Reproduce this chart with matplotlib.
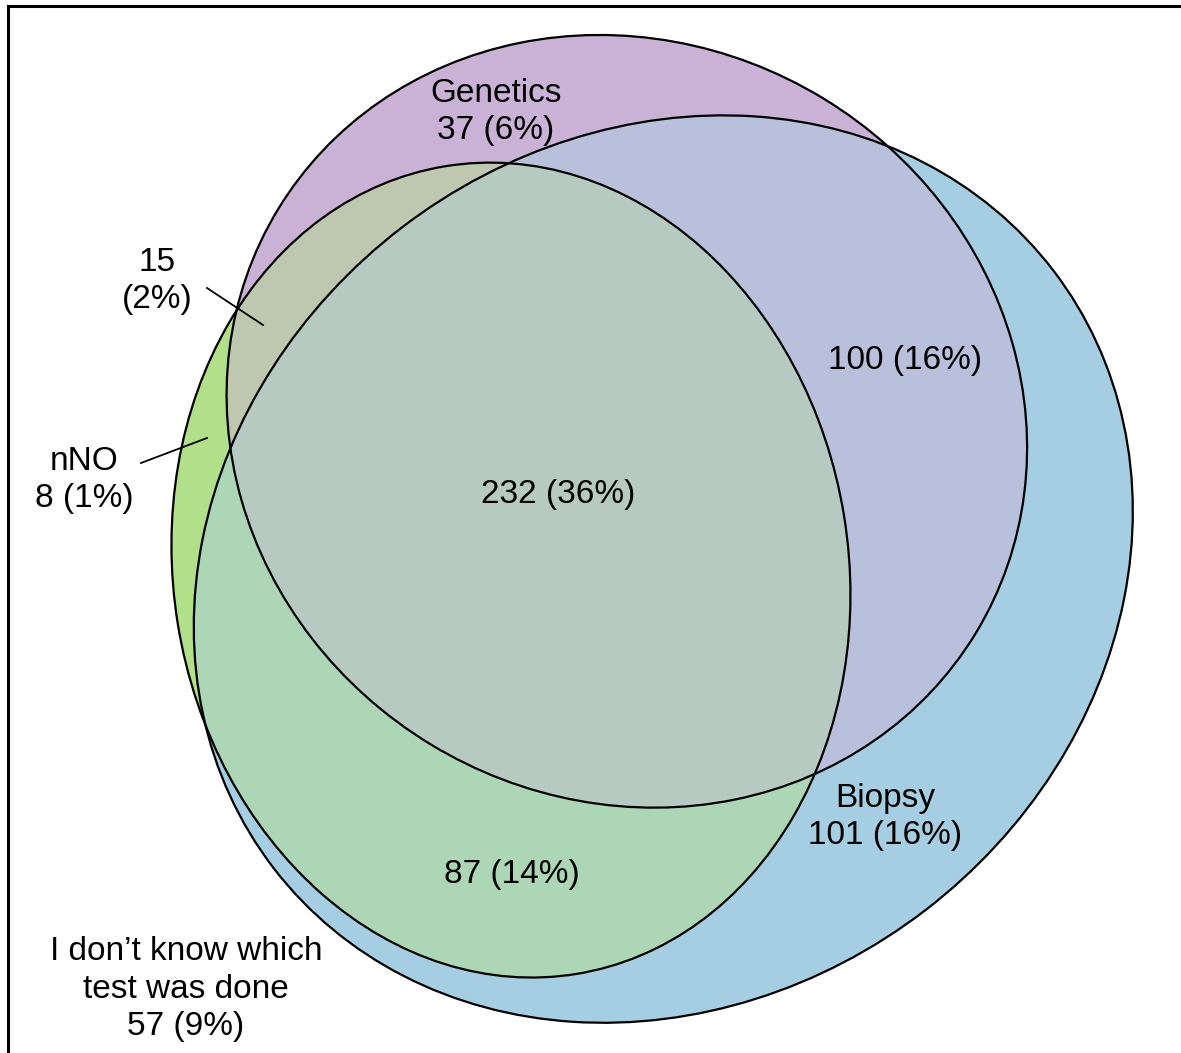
import numpy as np
import matplotlib
matplotlib.use("Agg")
import matplotlib.pyplot as plt
from matplotlib.patches import Ellipse
from matplotlib.colors import to_rgb

plt.rcParams['font.family'] = ['Liberation Sans', 'DejaVu Sans']

# sets (Genetics, Biopsy, nNO)
set_names = ['Genetics', 'Biopsy', 'nNO']
set_colors = ['#CAB2D6', '#A6CEE3', '#B2DF8A']

# region counts and percentages
region_keys = ['G', 'B', 'N', 'GN', 'GB', 'BN', 'GBN', 'none']
region_counts = [37, 101, 8, 15, 100, 87, 232, 57]
region_pcts = [6, 16, 1, 2, 16, 14, 36, 9]

# outline points (pixels, y downwards)
genetics_x = [238, 290, 383, 600, 807, 887, 967, 1013, 1027, 1020, 993, 947, 820, 650, 483, 383, 283, 230, 227]
genetics_y = [307, 200, 100, 37, 90, 143, 267, 367, 450, 517, 600, 683, 772, 808, 767, 700, 600, 457, 393]
biopsy_x = [573, 640, 720, 807, 887, 980, 1047, 1097, 1120, 1125, 1117, 1093, 1063, 1013, 947, 863, 780, 650,
            580, 417, 300, 243, 197, 193, 200, 230, 277, 350, 440, 512]
biopsy_y = [140, 123, 116, 123, 143, 200, 260, 350, 433, 500, 600, 700, 767, 833, 900, 953, 983, 1018,
            1022, 983, 900, 800, 693, 627, 560, 457, 333, 240, 203, 166]
nno_x = [483, 640, 780, 823, 852, 847, 817, 780, 650, 537, 383, 283, 230, 197, 185, 173, 183, 203, 238]
nno_y = [166, 207, 340, 433, 600, 667, 773, 833, 947, 972, 943, 867, 800, 693, 660, 560, 433, 367, 307]
# points where two outlines cross count more in the fit
crossings = [(238, 307), (887, 143), (512, 166), (197, 693), (230, 457), (820, 772)]

W, H = 1181, 1053


def fit_ellipse(px, py):
    x = np.asarray(px, float)
    y = np.asarray(py, float)
    w = np.array([3.0 if (a, b) in crossings else 1.0 for a, b in zip(px, py)])
    mx, my = x.mean(), y.mean()
    s = max(x.std(), y.std())
    u, v = (x - mx) / s, (y - my) / s
    M = np.column_stack([u * u, u * v, v * v, u, v])
    A, B, C, D, E = np.linalg.lstsq(M * w[:, None], w, rcond=None)[0]
    u0, v0 = np.linalg.solve([[2 * A, B], [B, 2 * C]], [-D, -E])
    f0 = A * u0 * u0 + B * u0 * v0 + C * v0 * v0 + D * u0 + E * v0 - 1
    lam, vec = np.linalg.eigh([[A, B / 2], [B / 2, C]])
    semi = np.sqrt(-f0 / lam) * s
    ang = np.degrees(np.arctan2(vec[1, 0], vec[0, 0]))
    return (mx + u0 * s, my + v0 * s), 2 * semi[0], 2 * semi[1], ang


ells = [fit_ellipse(genetics_x, genetics_y),
        fit_ellipse(biopsy_x, biopsy_y),
        fit_ellipse(nno_x, nno_y)]


def inside(xx, yy, e):
    (cx, cy), w, h, a = e
    t = np.deg2rad(a)
    dx, dy = xx - cx, yy - cy
    u = dx * np.cos(t) + dy * np.sin(t)
    v = -dx * np.sin(t) + dy * np.cos(t)
    return (u / (w / 2)) ** 2 + (v / (h / 2)) ** 2 <= 1


fig = plt.figure(figsize=(W / 100, H / 100), dpi=100)
ax = fig.add_axes([0, 0, 1, 1])
ax.set_xlim(0, W)
ax.set_ylim(H, 0)
ax.axis('off')

# region fills: each region gets the mean colour of the sets it belongs to
xx, yy = np.meshgrid(np.arange(W) + 0.5, np.arange(H) + 0.5)
acc = np.zeros((H, W, 3))
n = np.zeros((H, W))
for e, c in zip(ells, set_colors):
    m = inside(xx, yy, e)
    acc[m] += to_rgb(c)
    n[m] += 1
img = np.ones((H, W, 3))
hit = n > 0
img[hit] = acc[hit] / n[hit][:, None]
ax.imshow(img, extent=(0, W, H, 0), interpolation='nearest', zorder=1)

for (c, w, h, a) in ells:
    ax.add_patch(Ellipse(c, w, h, angle=a, fill=False, edgecolor='black', lw=1.6, zorder=3))


# labels
def lab(key):
    k = region_keys.index(key)
    return region_counts[k], region_pcts[k]


label_pos = {
    'G': (496, 112), 'B': (885, 817), 'N': (84, 480), 'GN': (157, 281),
    'GB': (905, 360), 'BN': (512, 875), 'GBN': (558, 495), 'none': (186, 989),
}
for key in region_keys:
    c, p = lab(key)
    if key in ('G', 'B', 'N'):
        s = f'{set_names["GBN".index(key)]}\n{c} ({p}%)'
    elif key == 'GN':
        s = f'{c}\n({p}%)'
    elif key == 'none':
        s = f'I don’t know which\ntest was done\n{c} ({p}%)'
    else:
        s = f'{c} ({p}%)'
    x, y = label_pos[key]
    ax.text(x, y, s, ha='center', va='center', fontsize=24, linespacing=1.28, zorder=4)

# leader lines for the small regions
ax.plot([207, 263], [288, 325], color='black', lw=1.3, zorder=4)
ax.plot([141, 207], [463, 438], color='black', lw=1.3, zorder=4)

# faint rule and frame
ax.plot([72, 1142], [32, 32], color='#f3f3f3', lw=2.5, zorder=0)
ax.plot([8, W + 5], [6, 6], color='black', lw=2.2, zorder=5, clip_on=False)
ax.plot([8, 8], [6, H + 5], color='black', lw=2.2, zorder=5, clip_on=False)

fig.savefig('out.png', dpi=100)
